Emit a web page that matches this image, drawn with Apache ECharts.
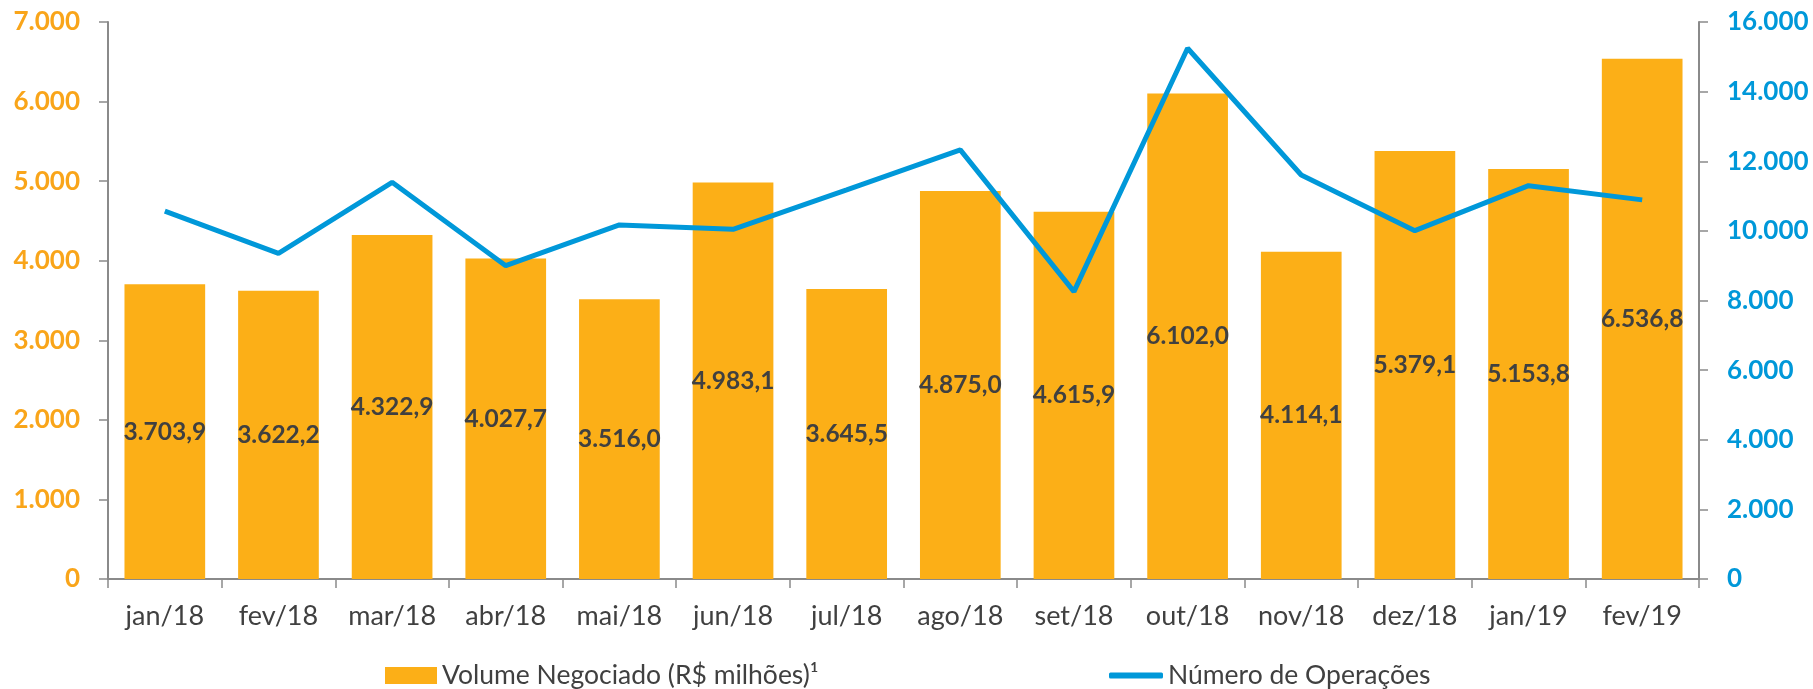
<!DOCTYPE html>
<html>
<head>
<meta charset="utf-8">
<script src="https://cdn.jsdelivr.net/npm/echarts@6/dist/echarts.min.js"></script>
<style>
  html, body { margin: 0; padding: 0; background: #fff; }
  #main { width: 1813px; height: 689px; }
</style>
</head>
<body>
<div id="main"></div>
<script>
// data
var months = ['jan/18', 'fev/18', 'mar/18', 'abr/18', 'mai/18', 'jun/18', 'jul/18',
              'ago/18', 'set/18', 'out/18', 'nov/18', 'dez/18', 'jan/19', 'fev/19'];
var volume = [3703.9, 3622.2, 4322.9, 4027.7, 3516.0, 4983.1, 3645.5,
              4875.0, 4615.9, 6102.0, 4114.1, 5379.1, 5153.8, 6536.8];
var operacoes = [10570, 9356, 11395, 9000, 10170, 10045, 11180,
                 12325, 8254, 15245, 11605, 10006, 11298, 10890];
var volumeName = 'Volume Negociado (R$ milhões)¹';
var opName = 'Número de Operações';

var orange = '#FCAF17',
    orangeTxt = '#F9A51A',
    blue = '#0098D9',
    grey = '#8A8A8A',
    dark = '#404040',
    font = 'Lato';

// 3703.9 -> "3.703,9", 7000 -> "7.000"
function fmt(v, dec) {
  var s = v.toFixed(dec).split('.');
  var intPart = s[0].replace(/\B(?=(\d{3})+(?!\d))/g, '.');
  return s.length > 1 ? intPart + ',' + s[1] : intPart;
}

var chart = echarts.init(document.getElementById('main'));
chart.setOption({
  animation: false,
  textStyle: { fontFamily: font },
  grid: { left: 108, right: 114, top: 22, bottom: 110 },
  legend: [{
    left: 380, top: 657,
    itemWidth: 52, itemHeight: 17, icon: 'rect',
    textStyle: { fontSize: 26.5, color: dark, fontFamily: font },
    data: [volumeName]
  }, {
    left: 1104, top: 657,
    itemWidth: 54, itemHeight: 6, icon: 'roundRect',
    textStyle: { fontSize: 26.5, color: dark, fontFamily: font },
    data: [opName]
  }],
  xAxis: {
    type: 'category',
    data: months,
    axisLine: { lineStyle: { color: grey, width: 2 } },
    axisTick: { show: true, interval: 0, length: 9, lineStyle: { color: grey, width: 1.5 } },
    axisLabel: { interval: 0, color: dark, fontSize: 27, margin: 24, fontFamily: font }
  },
  yAxis: [{
    type: 'value', min: 0, max: 7000, interval: 1000,
    axisLine: { show: true, lineStyle: { color: grey, width: 2 } },
    axisTick: { show: true, length: 9, lineStyle: { color: grey, width: 1.5 } },
    splitLine: { show: false },
    axisLabel: {
      color: orangeTxt, fontSize: 26, fontWeight: 'bold', margin: 28, fontFamily: font,
      formatter: function (v) { return fmt(v, 0); }
    }
  }, {
    type: 'value', min: 0, max: 16000, interval: 2000,
    axisLine: { show: true, lineStyle: { color: grey, width: 2 } },
    axisTick: { show: true, length: 9, lineStyle: { color: grey, width: 1.5 } },
    splitLine: { show: false },
    axisLabel: {
      color: blue, fontSize: 26, fontWeight: 'bold', margin: 28, fontFamily: font,
      formatter: function (v) { return fmt(v, 0); }
    }
  }],
  series: [{
    name: volumeName,
    type: 'bar',
    yAxisIndex: 0,
    barCategoryGap: '29%',
    itemStyle: { color: orange },
    label: {
      show: true, position: 'inside',
      color: dark, fontSize: 24.5, fontWeight: 'bold', fontFamily: font,
      formatter: function (p) { return fmt(p.value, 1); }
    },
    data: volume
  }, {
    name: opName,
    type: 'line',
    yAxisIndex: 1,
    symbol: 'none',
    lineStyle: { color: blue, width: 5 },
    itemStyle: { color: blue },
    data: operacoes
  }]
});
</script>
</body>
</html>
